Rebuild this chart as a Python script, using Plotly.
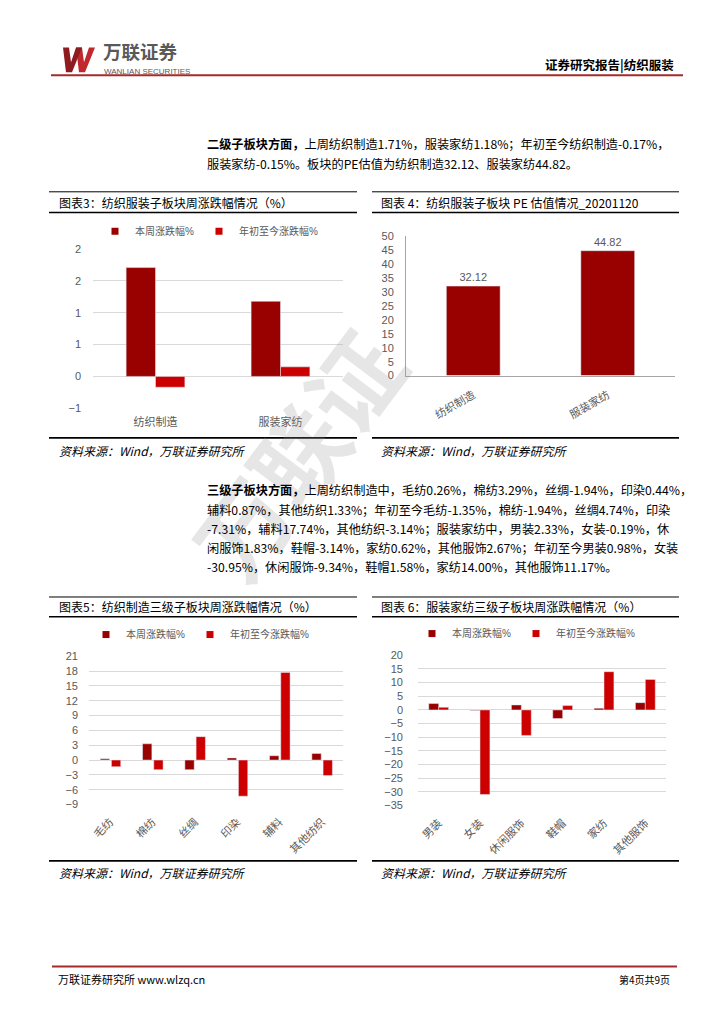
import plotly.graph_objects as go

W, H = 724, 1024
def X(px): return px / W
def Y(py): return 1 - py / H

FONT = "Liberation Sans, Noto Sans CJK SC, sans-serif"
CJK = "Noto Sans CJK SC, sans-serif"
GREY = "#595959"
DARK = "#990000"
RED = "#CC0000"
GRID = "#d9d9d9"

# ---------------- data ----------------
sub_cats = ["纺织制造", "服装家纺"]
sub_week = [1.71, 1.18]
sub_ytd = [-0.17, 0.15]
sub_tickvals = [-0.5, 0, 0.5, 1, 1.5, 2]
sub_ticktext = ["−1", "0", "1", "1", "2", "2"]

pe_cats = ["纺织制造", "服装家纺"]
pe_vals = [32.12, 44.82]

tex_cats = ["毛纺", "棉纺", "丝绸", "印染", "辅料", "其他纺织"]
tex_week = [0.26, 3.29, -1.94, 0.44, 0.87, 1.33]
tex_ytd = [-1.35, -1.94, 4.74, -7.31, 17.74, -3.14]

app_cats = ["男装", "女装", "休闲服饰", "鞋帽", "家纺", "其他服饰"]
app_week = [2.33, -0.19, 1.83, -3.14, 0.62, 2.67]
app_ytd = [0.98, -30.95, -9.34, 1.58, 14.00, 11.17]

series_names = ["本周涨跌幅%", "年初至今涨跌幅%"]
series_colors = [DARK, RED]

fig = go.Figure()

# chart 3
fig.add_trace(go.Bar(x=sub_cats, y=sub_week, name=series_names[0], marker_color=DARK,
                     width=0.235, offset=-0.235, xaxis="x", yaxis="y", showlegend=False))
fig.add_trace(go.Bar(x=sub_cats, y=sub_ytd, name=series_names[1], marker_color=RED,
                     width=0.235, offset=0.0, xaxis="x", yaxis="y", showlegend=False))
# chart 4
fig.add_trace(go.Bar(x=pe_cats, y=pe_vals, marker_color=DARK, width=0.4, offset=-0.2,
                     text=pe_vals, texttemplate="%{y:.2f}", textposition="outside",
                     textfont=dict(size=11, color=GREY, family=FONT), cliponaxis=False,
                     xaxis="x2", yaxis="y2", showlegend=False))
# chart 5
fig.add_trace(go.Bar(x=tex_cats, y=tex_week, name=series_names[0], marker_color=DARK,
                     width=0.22, offset=-0.235, xaxis="x3", yaxis="y3", showlegend=False))
fig.add_trace(go.Bar(x=tex_cats, y=tex_ytd, name=series_names[1], marker_color=RED,
                     width=0.22, offset=0.03, xaxis="x3", yaxis="y3", showlegend=False))
# chart 6
fig.add_trace(go.Bar(x=app_cats, y=app_week, name=series_names[0], marker_color=DARK,
                     width=0.24, offset=-0.24, xaxis="x4", yaxis="y4", showlegend=False))
fig.add_trace(go.Bar(x=app_cats, y=app_ytd, name=series_names[1], marker_color=RED,
                     width=0.24, offset=0.0, xaxis="x4", yaxis="y4", showlegend=False))

# legend entries (small square keys like the original)
for leg, xa, ya in [("legend", "x", "y"), ("legend2", "x3", "y3"), ("legend3", "x4", "y4")]:
    for nm, col in zip(series_names, series_colors):
        fig.add_trace(go.Scatter(x=[None], y=[None], mode="markers", name=nm,
                                 marker=dict(symbol="square", size=7, color=col),
                                 xaxis=xa, yaxis=ya, legend=leg, hoverinfo="skip"))

tf = dict(size=11, color=GREY, family=FONT)

def xax(d0, d1, anchor, angle=0, standoff=6, line=False):
    return dict(domain=[X(d0), X(d1)], anchor=anchor, showgrid=False, zeroline=False,
                showline=line, linecolor="#a6a6a6", linewidth=1, ticks="",
                tickangle=angle, tickfont=tf, ticklabelstandoff=standoff, fixedrange=True)

def yax(p0, p1, anchor, rng, grid=True, line=False, standoff=10, **kw):
    d = dict(domain=[Y(p0), Y(p1)], anchor=anchor, range=rng, showgrid=grid, gridcolor=GRID,
             gridwidth=1, zeroline=False, showline=line, linecolor="#a6a6a6", linewidth=1,
             ticks="", tickfont=tf, ticklabelstandoff=standoff, fixedrange=True)
    d.update(kw)
    return d

legfont = dict(size=10, color=GREY, family=FONT)

fig.update_layout(
    width=W, height=H, autosize=False,
    margin=dict(l=0, r=0, t=0, b=0),
    paper_bgcolor="white", plot_bgcolor="rgba(0,0,0,0)",
    font=dict(family=FONT, color=GREY),
    barmode="group",
    xaxis=xax(93, 343, "y", 0, 6),
    yaxis=yax(407, 246, "x", [-0.5, 2.0], tickvals=sub_tickvals, ticktext=sub_ticktext, standoff=11),
    xaxis2=xax(406, 675, "y2", -30, 8, line=True),
    yaxis2=yax(374, 233, "x2", [0, 50], grid=False, line=True, dtick=5, tick0=0, standoff=9),
    xaxis3=xax(89, 343, "y3", -45, 8),
    yaxis3=yax(808, 658, "x3", [-9, 21], dtick=3, tick0=0, standoff=10),
    xaxis4=xax(418, 666, "y4", -45, 8),
    yaxis4=yax(809, 657, "x4", [-35, 20], dtick=5, tick0=0, standoff=14),
    legend=dict(orientation="h", x=X(209), y=Y(228), xanchor="center", yanchor="middle",
                font=legfont, bgcolor="rgba(0,0,0,0)"),
    legend2=dict(orientation="h", x=X(200), y=Y(636), xanchor="center", yanchor="middle",
                 font=legfont, bgcolor="rgba(0,0,0,0)"),
    legend3=dict(orientation="h", x=X(526), y=Y(635), xanchor="center", yanchor="middle",
                 font=legfont, bgcolor="rgba(0,0,0,0)"),
)

shapes = []
def hline(x0, x1, y, color="black", w=1):
    shapes.append(dict(type="line", xref="paper", yref="paper", x0=X(x0), x1=X(x1),
                       y0=Y(y), y1=Y(y), line=dict(color=color, width=w)))

# header / footer rules
hline(51, 683, 70, "#A52A2A", 2)
hline(52, 677, 972, "#A52A2A", 2)
# chart frames
for (a, b) in [(49, 357), (372, 679)]:
    hline(a, b, 188, "black", 1)
    hline(a, b, 209, "black", 1.6)
    hline(a, b, 437, "black", 1.6)
    hline(a, b, 598, "black", 1)
    hline(a, b, 618, "black", 1.6)
    hline(a, b, 865, "black", 1.6)

def poly(pts, color):
    p = "M " + " L ".join(f"{X(x):.5f},{Y(y):.5f}" for x, y in pts) + " Z"
    shapes.append(dict(type="path", xref="paper", yref="paper", path=p,
                       fillcolor=color, line=dict(width=0)))

# logo W
poly([(76, 42), (82, 42), (84, 57), (89, 42), (95, 42), (85, 67), (79, 67)], "#C0282D")
poly([(63, 42), (69, 42), (71, 57), (76, 42), (82, 42), (72, 67), (66, 67)], "#8E1B1F")

fig.update_layout(shapes=shapes)

ann = []
def txt(x, y, s, size=12, color="black", anchor="left", family=CJK, **kw):
    ann.append(dict(x=X(x), y=Y(y), xref="paper", yref="paper", text=s, showarrow=False,
                    xanchor=anchor, yanchor="middle", font=dict(size=size, color=color, family=family), **kw))

# watermark
txt(296, 452, "<b>万联证</b>", 92, "rgba(150,150,150,0.24)", "center", textangle=-53)

# header
txt(101, 46, "<b>万联证券</b>", 18.5, "#595959")
txt(102, 66.5, "WANLIAN SECURITIES", 8, "#595959", family="Liberation Sans, sans-serif")
txt(676, 59, "<b>证券研究报告|纺织服装</b>", 12.5, "black", "right")

# paragraph 1
p1 = ["<b>二级子板块方面，</b>上周纺织制造1.71%，服装家纺1.18%；年初至今纺织制造-0.17%，",
      "服装家纺-0.15%。板块的PE估值为纺织制造32.12、服装家纺44.82。"]
for i, s in enumerate(p1):
    txt(205, 140 + 20 * i, s, 12.2, "black")

# paragraph 2
p2 = ["<b>三级子板块方面，</b>上周纺织制造中，毛纺0.26%，棉纺3.29%，丝绸-1.94%，印染0.44%，",
      "辅料0.87%，其他纺织1.33%；年初至今毛纺-1.35%，棉纺-1.94%，丝绸4.74%，印染",
      "-7.31%，辅料17.74%，其他纺织-3.14%；服装家纺中，男装2.33%，女装-0.19%，休",
      "闲服饰1.83%，鞋帽-3.14%，家纺0.62%，其他服饰2.67%；年初至今男装0.98%，女装",
      "-30.95%，休闲服饰-9.34%，鞋帽1.58%，家纺14.00%，其他服饰11.17%。"]
for i, s in enumerate(p2):
    txt(205, 490 + 19.5 * i, s, 12.2, "black")

# chart titles
txt(57, 199, "图表3：纺织服装子板块周涨跌幅情况（%）", 12, "black")
txt(379, 199, "图表 4：纺织服装子板块 PE 估值情况_20201120", 12, "black")
txt(57, 608, "图表5：纺织制造三级子板块周涨跌幅情况（%）", 12, "black")
txt(379, 608, "图表 6：服装家纺三级子板块周涨跌幅情况（%）", 12, "black")

# sources
for (x, y) in [(57, 450), (379, 450), (57, 877), (379, 877)]:
    txt(x, y, "<i>资料来源：Wind，万联证券研究所</i>", 12, "black")

# footer
txt(56, 985, "万联证券研究所 www.wlzq.cn", 11, "black")
txt(672, 985, "第4页共9页", 10, "black", "right")

fig.update_layout(annotations=ann)

fig.write_html("out.html", config={"displayModeBar": False})
with open("out.html", "r", encoding="utf-8") as f:
    html = f.read()
html = html.replace("<head>", "<head><style>html,body{margin:0;padding:0;overflow:hidden;}</style>", 1)
with open("out.html", "w", encoding="utf-8") as f:
    f.write(html)
